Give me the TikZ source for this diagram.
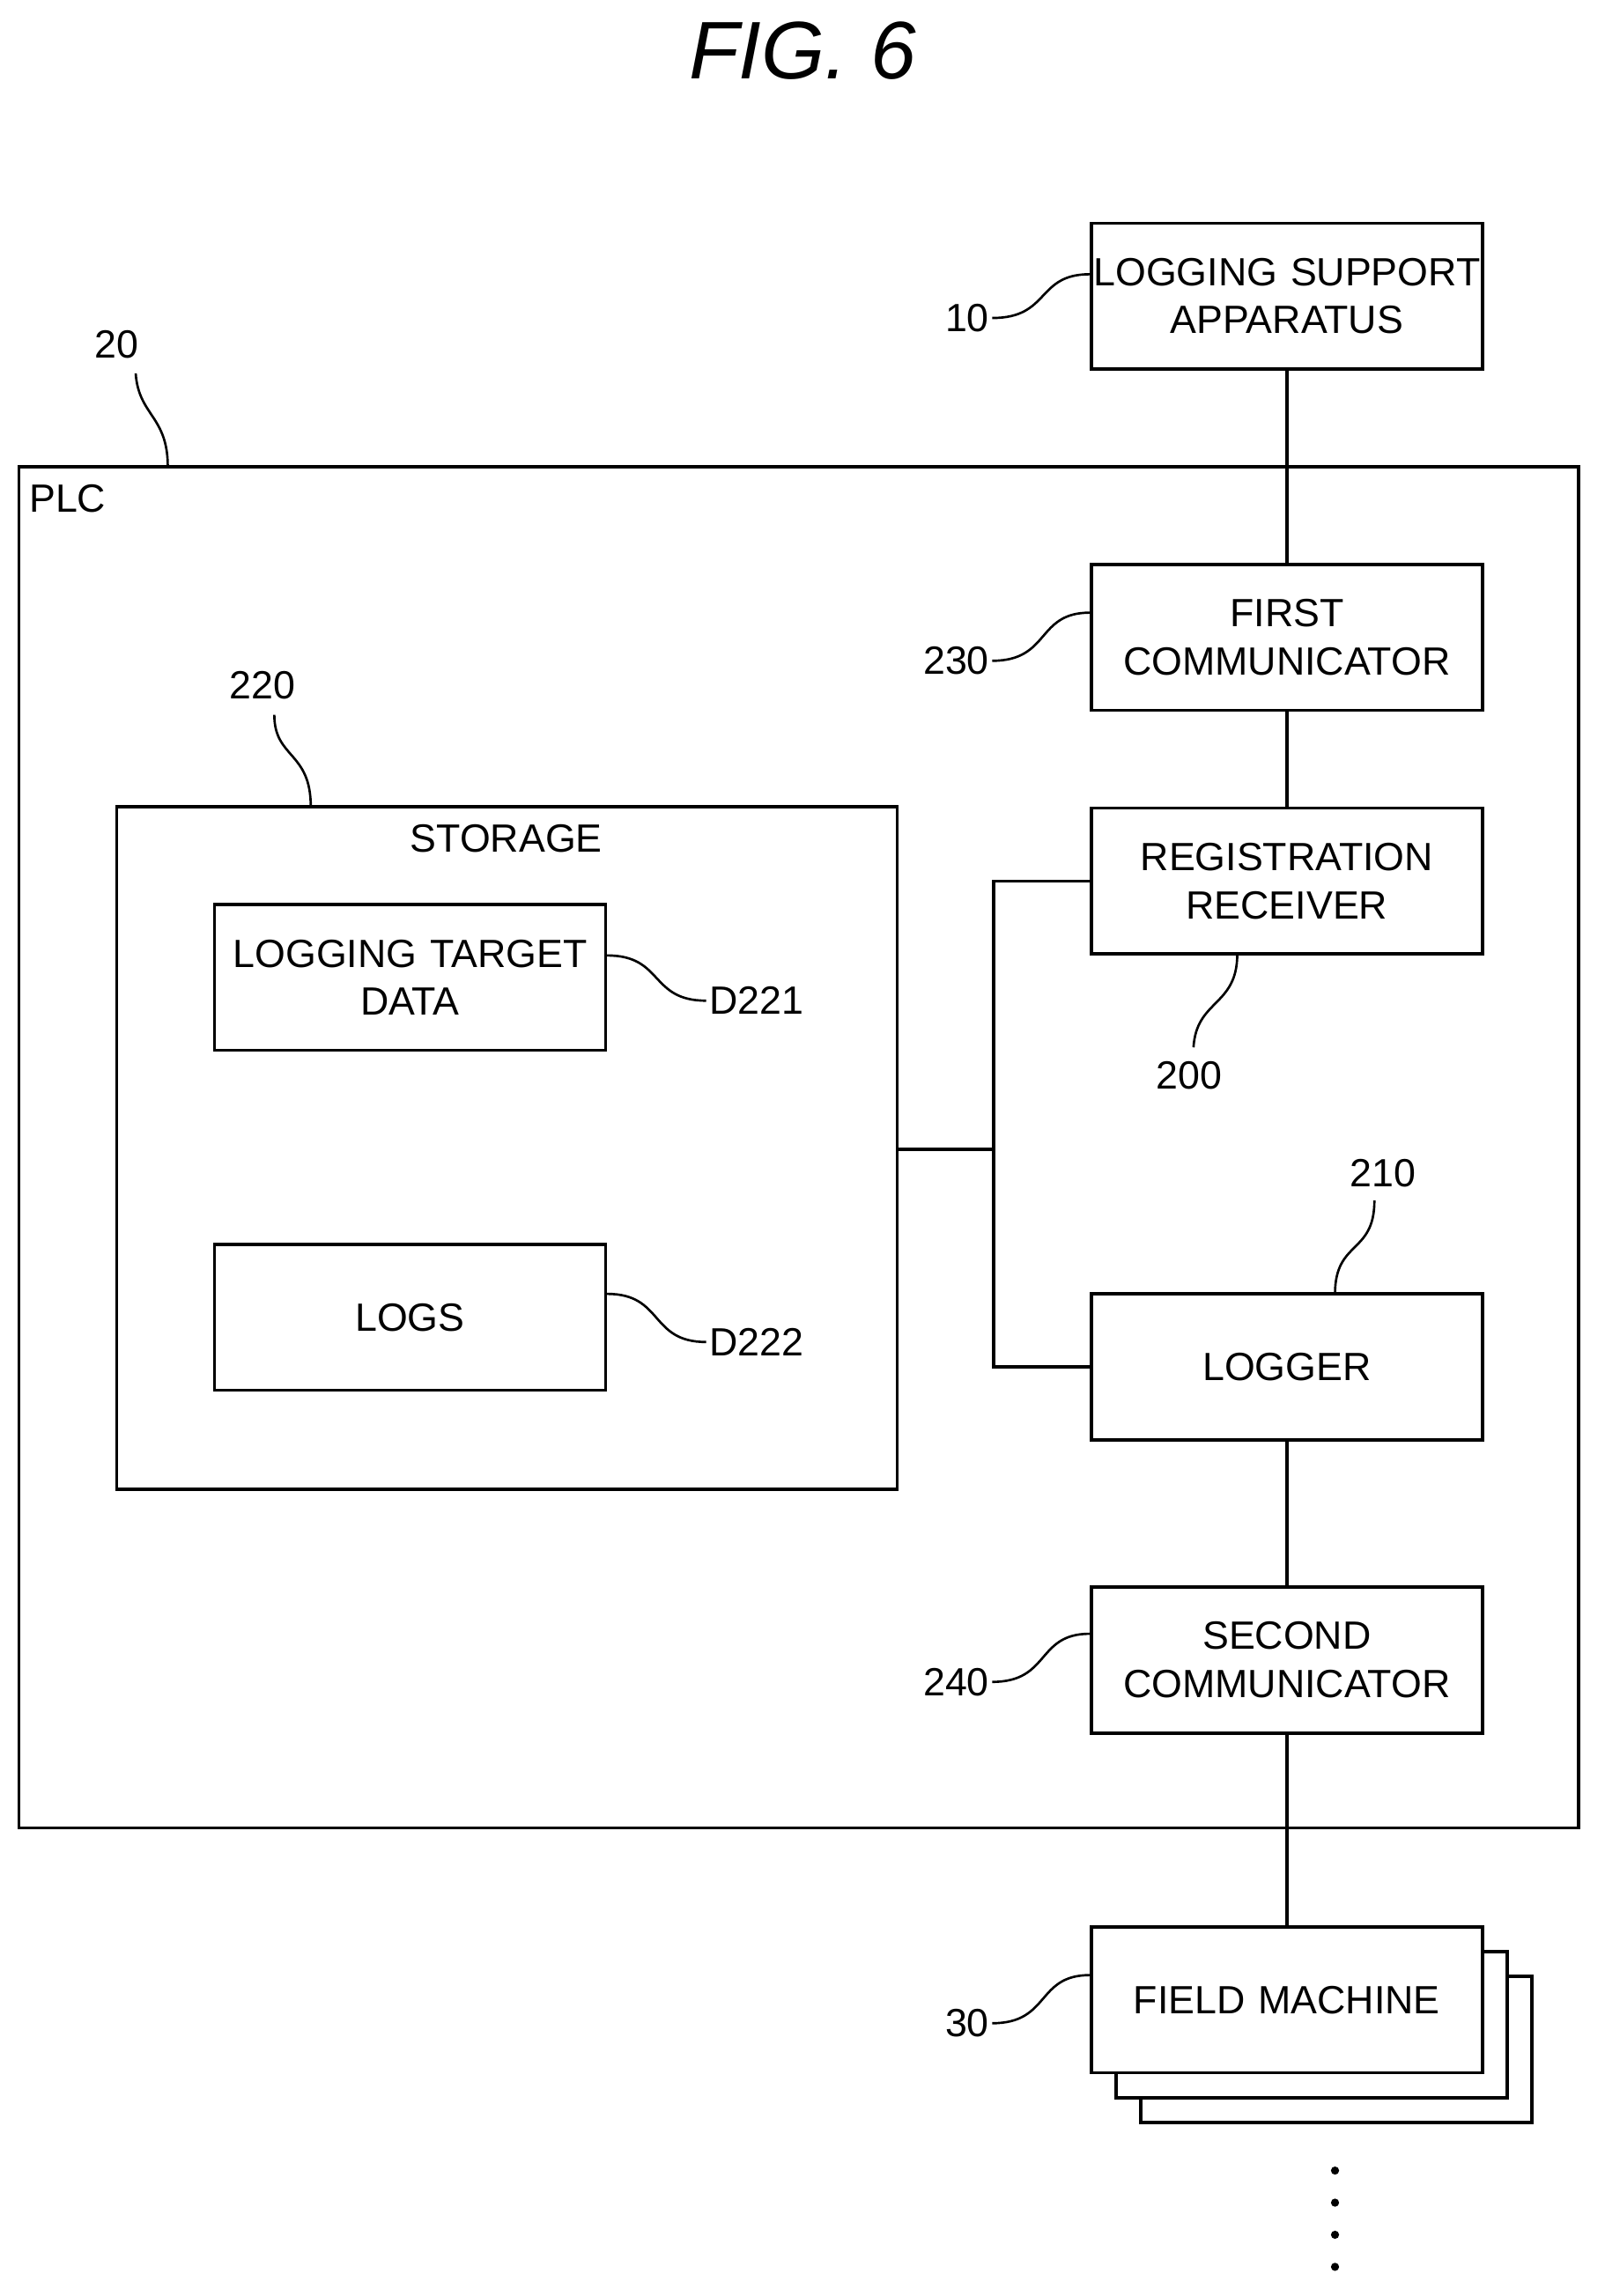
\documentclass[tikz,border=0pt]{standalone}
\usepackage{fontspec}
\setmainfont{Liberation Sans}
\begin{document}
\begin{tikzpicture}[x=1pt,y=-1pt,line width=2.2pt,
  box/.style={draw,fill=white,minimum width=268pt,minimum height=100pt,text width=266pt,align=center,font=\fontsize{27}{33}\selectfont,inner sep=0pt},
  lbl/.style={font=\fontsize{27}{32}\selectfont,inner sep=1pt},
  lead/.style={line width=1.6pt}]
\useasboundingbox (0,0) rectangle (1100,1574);
\node[font=\fontsize{56}{60}\selectfont\itshape] (title) at (550,35) {FIG. 6};
% PLC
\draw (13,320) rectangle (1082,1253);
\node[lbl,anchor=west] (plc) at (18,342) {PLC};
% storage
\draw (80,553) rectangle (615,1021);
\coordinate (stR) at (615,788);
\node[lbl] (stlab) at (347,575) {STORAGE};
\node[box] (ltd) at (281,670) {LOGGING TARGET\\DATA};
\node[box] (logs) at (281,903) {LOGS};
% right column
\node[box] (lsa) at (882,203) {LOGGING SUPPORT\\APPARATUS};
\node[box] (fc) at (882,437) {FIRST\\COMMUNICATOR};
\node[box] (rr) at (882,604) {REGISTRATION\\RECEIVER};
\node[box] (lg) at (882,937) {LOGGER};
\node[box] (sc) at (882,1138) {SECOND\\COMMUNICATOR};
\node[box] (fm3) at (916,1405) {};
\node[box] (fm2) at (899,1388) {};
\node[box] (fm) at (882,1371) {FIELD MACHINE};
% connectors
\draw (lsa.south) -- (fc.north);
\draw (fc.south) -- (rr.north);
\draw (lg.south) -- (sc.north);
\draw (sc.south) -- (fm.north);
\coordinate (j) at (681,788);
\draw (stR) -- (j);
\draw (rr.west) -| (j) |- (lg.west);
% dots
\foreach \yy in {1488,1510,1532,1554} \fill (915,\yy) circle (2.8pt);
% leaders
\node[lbl,anchor=east] (n10) at (680,218) {10};
\draw[lead] (n10.east) .. controls (720,218) and (710,188) .. (lsa.west|-0,188);
\node[lbl,anchor=east] (n230) at (680,453) {230};
\draw[lead] (n230.east) .. controls (720,453) and (710,420) .. (fc.west|-0,420);
\node[lbl,anchor=east] (n240) at (680,1153) {240};
\draw[lead] (n240.east) .. controls (720,1153) and (710,1120) .. (sc.west|-0,1120);
\node[lbl,anchor=east] (n30) at (680,1387) {30};
\draw[lead] (n30.east) .. controls (720,1387) and (710,1354) .. (fm.west|-0,1354);
\node[lbl] (n20) at (80,236) {20};
\draw[lead] (93,256) .. controls (95,285) and (115,285) .. (115,320);
\node[lbl] (n220) at (180,470) {220};
\draw[lead] (188,490) .. controls (188,520) and (213,515) .. (213,553);
\node[lbl,anchor=west] (d221) at (484,686) {D221};
\draw[lead] (ltd.east|-0,655) .. controls (455,655) and (445,686) .. (d221.west);
\node[lbl,anchor=west] (d222) at (484,920) {D222};
\draw[lead] (logs.east|-0,887) .. controls (455,887) and (445,920) .. (d222.west);
\node[lbl] (n200) at (815,737) {200};
\draw[lead] (848,654) .. controls (848,690) and (820,685) .. (818,718);
\node[lbl] (n210) at (948,804) {210};
\draw[lead] (942,823) .. controls (942,860) and (915,850) .. (915,887);
\end{tikzpicture}
\end{document}
